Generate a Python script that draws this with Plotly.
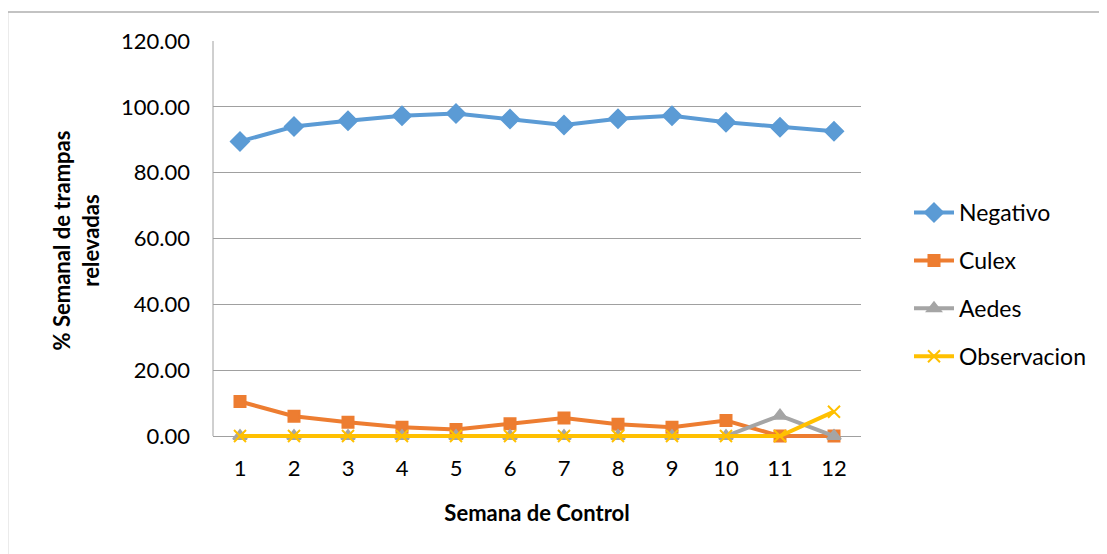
import plotly.graph_objects as go

semanas = [str(i) for i in range(1, 13)]
negativo = [89.5, 94.0, 95.8, 97.3, 98.0, 96.3, 94.5, 96.4, 97.3, 95.3, 93.8, 92.6]
culex = [10.5, 6.0, 4.2, 2.7, 2.0, 3.7, 5.5, 3.6, 2.7, 4.7, 0.0, 0.0]
aedes = [0, 0, 0, 0, 0, 0, 0, 0, 0, 0, 6.2, 0]
observacion = [0, 0, 0, 0, 0, 0, 0, 0, 0, 0, 0, 7.4]

FONT = "Lato"
series = [
    ("Negativo", negativo, "#5B9BD5", "diamond", 14),
    ("Culex", culex, "#ED7D31", "square", 11),
    ("Aedes", aedes, "#A5A5A5", "triangle-up", 12),
    ("Observacion", observacion, "#FFC000", "x-thin", 12),
]

fig = go.Figure()
for name, vals, col, sym, sz in series:
    fig.add_trace(go.Scatter(
        x=semanas, y=vals, name=name, mode="lines+markers",
        line=dict(color=col, width=4),
        marker=dict(symbol=sym, size=sz, color=col, line=dict(color=col, width=2)),
        cliponaxis=False, legendgroup=name,
    ))

OFF = 8  # page body margin
YMIN, YMAX = -1.2, 120
W, H = 1107 - OFF, 554 - OFF
upp = (436 - 41) / 120.0  # pixels per unit
L, R, T = 213 - OFF, 861 - OFF, 41 - OFF
B = 436 - OFF + (-YMIN) * upp
pw, ph = R - L, B - T

def px(x):
    return (x - OFF - L) / pw

def py(y):
    return (B - (y - OFF)) / ph

fig.update_layout(
    width=W, height=H,
    margin=dict(l=L, r=W - R, t=T, b=H - B),
    paper_bgcolor="white", plot_bgcolor="white",
    font=dict(family=FONT, size=22, color="#000000"),
    showlegend=True,
    legend=dict(x=px(909), y=py(284.5), xanchor="left", yanchor="middle",
                font=dict(size=23), tracegroupgap=15, itemwidth=40,
                bgcolor="rgba(0,0,0,0)"),
    xaxis=dict(type="category", range=[-0.5, len(semanas) - 0.5], autorange=False,
               showgrid=False, showline=False, ticks="", ticklabelstandoff=13,
               title=dict(text="<b>Semana de Control</b>", standoff=25,
                          font=dict(size=22))),
    yaxis=dict(range=[YMIN, YMAX], tick0=0, dtick=20, tickformat=".2f", showgrid=True,
               gridcolor="#A0A0A0", gridwidth=1, showline=False,
               zeroline=True, zerolinecolor="#A0A0A0", zerolinewidth=1,
               ticks="", ticklabelstandoff=22,
               title=dict(text="<b>% Semanal de trampas<br>relevadas</b>", standoff=15,
                          font=dict(size=22))),
    shapes=[
        dict(type="rect", xref="paper", yref="paper",
             x0=px(7.5), x1=px(1130), y0=py(580), y1=py(12),
             line=dict(color="#B0B0B0", width=1.5), fillcolor="rgba(0,0,0,0)",
             layer="below"),
        dict(type="line", xref="paper", yref="y", x0=0, x1=0, y0=0, y1=YMAX,
             line=dict(color="#A0A0A0", width=1), layer="below"),
    ],
)

fig.write_html("out.html")
